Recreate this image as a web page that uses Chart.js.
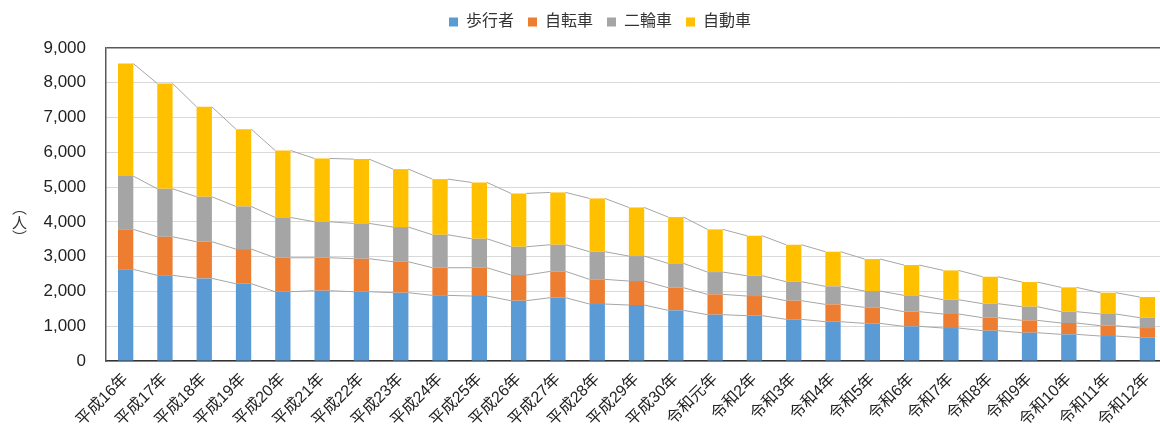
<!DOCTYPE html>
<html>
<head>
<meta charset="utf-8">
<script src="https://cdn.jsdelivr.net/npm/chart.js@4"></script>
<style>
  html, body { margin: 0; padding: 0; background: #fff; overflow: hidden; }
  #wrap { position: relative; width: 1170px; height: 429px; }
  #ytitle {
    position: absolute; left: 9px; top: 200px;
    writing-mode: vertical-rl;
    font: 15px "Noto Sans CJK JP", sans-serif; color: #333;
  }
</style>
</head>
<body>
<div id="wrap">
  <canvas id="chart" width="1170" height="429"></canvas>
  <div id="ytitle">（人）</div>
</div>
<script>
let labels = ["平成16年","平成17年","平成18年","平成19年","平成20年","平成21年","平成22年","平成23年","平成24年","平成25年","平成26年","平成27年","平成28年","平成29年","平成30年","令和元年","令和2年","令和3年","令和4年","令和5年","令和6年","令和7年","令和8年","令和9年","令和10年","令和11年","令和12年"]

let pedestrian = [2635,2463,2375,2222,1992,2021,1992,1964,1887,1868,1734,1820,1638,1609,1456,1332,1303,1198,1130,1082,996,948,872,814,766,718,670]
let bicycle    = [1149,1109,1054,996,977,948,949,890,795,814,737,757,709,690,651,584,565,536,498,460,422,403,373,355,326,297,278]
let motorcycle = [1532,1379,1293,1226,1159,1035,1015,997,948,833,814,766,795,718,700,641,584,546,518,469,469,411,403,392,326,336,297]
let car        = [3236,3029,2586,2223,1926,1820,1849,1666,1600,1619,1533,1504,1532,1398,1331,1227,1150,1063,996,920,872,843,775,709,699,613,594]

let yTicks = [0,1000,2000,3000,4000,5000,6000,7000,8000,9000]

let font = '"Liberation Sans", "Noto Sans CJK JP", sans-serif'

// excel style series lines between the tops of the stacked segments
let seriesLines = {
    id:'seriesLines',
    afterDatasetsDraw(chart){
        let c = chart.ctx
        c.save()
        c.strokeStyle = '#a6a6a6'
        c.lineWidth = 1
        chart.data.datasets.forEach((ds,di)=>{
            let meta = chart.getDatasetMeta(di)
            c.beginPath()
            for(let i=0;i<meta.data.length-1;i++){
                let a = meta.data[i], b = meta.data[i+1]
                c.moveTo(a.x + a.width/2, a.y)
                c.lineTo(b.x - b.width/2, b.y)
            }
            c.stroke()
        })
        c.restore()
    }
}

// a bit more room under the legend
let legendGap = {
    id:'legendGap',
    beforeInit(chart){
        let fit = chart.legend.fit
        chart.legend.fit = function(){
            fit.bind(chart.legend)()
            this.height += 8
        }
    }
}

let ctx = document.getElementById('chart').getContext('2d')
let chart = new Chart(ctx,{
    type:'bar',
    data:{
        labels:labels,
        datasets:[
            {label:'歩行者', data:pedestrian, backgroundColor:'#5b9bd5'},
            {label:'自転車', data:bicycle, backgroundColor:'#ed7d31'},
            {label:'二輪車', data:motorcycle, backgroundColor:'#a5a5a5'},
            {label:'自動車', data:car, backgroundColor:'#ffc000'}
        ]
    },
    options:{
        responsive:false,
        animation:false,
        layout:{padding:{left:30, top:0, right:0, bottom:0}},
        datasets:{bar:{categoryPercentage:1, barPercentage:0.39}},
        plugins:{
            legend:{
                position:'top',
                labels:{boxWidth:9, boxHeight:9, padding:14, color:'#333', font:{family:font, size:16}}
            },
            tooltip:{enabled:false}
        },
        scales:{
            x:{
                stacked:true,
                grid:{display:false, drawTicks:false},
                border:{color:'#333', width:1.5},
                ticks:{autoSkip:false, maxRotation:45, minRotation:45, padding:9, color:'#222', font:{family:font, size:16}},
                afterFit(scale){ scale.height = 68 }
            },
            y:{
                stacked:true,
                min:0, max:9000,
                afterBuildTicks(scale){ scale.ticks = yTicks.map(v=>({value:v})) },
                grid:{
                    drawTicks:false,
                    color:(c)=> c.tick && c.tick.value === 9000 ? '#595959' : '#d9d9d9',
                    lineWidth:(c)=> c.tick && c.tick.value === 9000 ? 1.5 : 1
                },
                border:{color:'#595959', width:1.5},
                ticks:{padding:20, color:'#222', font:{family:font, size:17},
                    callback:(v)=>v.toLocaleString('en-US')},
                afterFit(scale){ scale.width = 76 }
            }
        }
    },
    plugins:[seriesLines, legendGap]
})
</script>
</body>
</html>
